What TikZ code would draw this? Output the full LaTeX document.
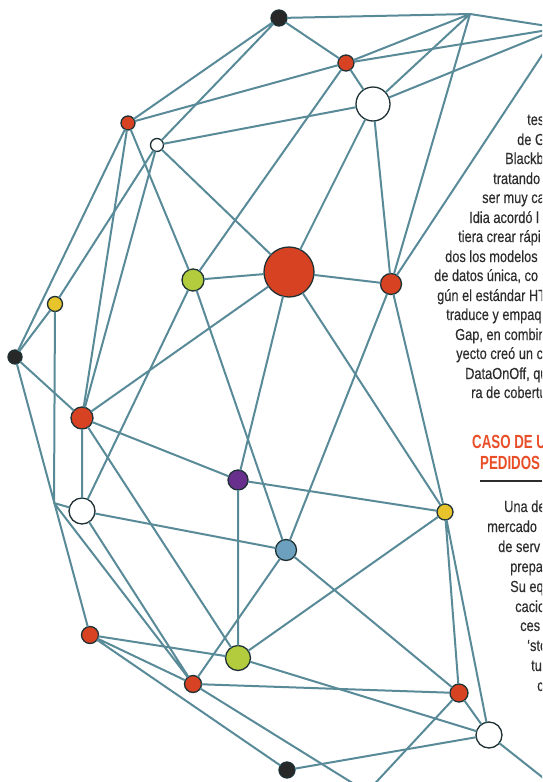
\documentclass[tikz,border=0pt]{standalone}
\usepackage{fontspec}
\setmainfont{Liberation Sans}
\newfontfamily\colfont{Liberation Sans}[FakeStretch=0.8, FakeBold=0.3]
\newfontfamily\headfont{Liberation Sans}[FakeStretch=0.7]

\definecolor{edgeteal}{RGB}{88,138,152}
\definecolor{rim}{RGB}{30,48,52}
\definecolor{nodered}{RGB}{214,66,34}
\definecolor{nodegreen}{RGB}{178,204,62}
\definecolor{nodeyellow}{RGB}{232,196,44}
\definecolor{nodepurple}{RGB}{104,48,140}
\definecolor{nodeblue}{RGB}{108,160,190}
\definecolor{nodeblack}{RGB}{40,40,40}
\definecolor{ink}{RGB}{45,45,45}
\definecolor{headred}{RGB}{232,78,40}

\tikzset{
  netnode/.style={circle, draw=rim, line width=1.3pt, inner sep=0pt, outer sep=0pt, minimum size=#1},
  rednode/.style={netnode=#1, fill=nodered},
  greennode/.style={netnode=#1, fill=nodegreen},
  yellownode/.style={netnode=#1, fill=nodeyellow},
  blacknode/.style={netnode=#1, fill=nodeblack},
  whitenode/.style={netnode=#1, fill=white},
  link/.style={draw=edgeteal, line width=2pt},
  coltext/.style={anchor=base west, inner sep=0pt, text=ink, font=\colfont\fontsize{16}{19}\selectfont},
  headtext/.style={anchor=base west, inner sep=0pt, text=headred, font=\headfont\bfseries\fontsize{19}{21}\selectfont},
}

\begin{document}
\begin{tikzpicture}[x=1pt, y=-1pt]
  \useasboundingbox (0,0) rectangle (542,782);
  \clip (0,0) rectangle (542,782);

  % network nodes, pixel positions
  \node[blacknode=16] (k1) at (279,18) {};
  \node[rednode=16] (r1) at (346,63) {};
  \node[whitenode=34] (w1) at (373,104) {};
  \node[rednode=14] (r2) at (128,123) {};
  \node[whitenode=13] (w2) at (157,145) {};
  \node[rednode=50] (br) at (289,272) {};
  \node[greennode=22] (g1) at (193,280) {};
  \node[rednode=21] (r3) at (391,284) {};
  \node[yellownode=15] (y1) at (55,304) {};
  \node[blacknode=14] (k2) at (15,357) {};
  \node[rednode=22] (r4) at (82,418) {};
  \node[netnode=20, fill=nodepurple] (p) at (238,480) {};
  \node[whitenode=26] (w3) at (82,511) {};
  \node[yellownode=16] (y2) at (445,512) {};
  \node[netnode=21, fill=nodeblue] (b) at (286,550) {};
  \node[rednode=17] (r5) at (90,635) {};
  \node[greennode=25] (g2) at (238,658) {};
  \node[rednode=17] (r6) at (193,684) {};
  \node[rednode=18] (r7) at (459,693) {};
  \node[whitenode=26] (w4) at (489,735) {};
  \node[blacknode=16] (k3) at (287,770) {};
  % junctions and nodes beyond the page edge
  \coordinate (t1) at (470,14);
  \coordinate (t2) at (560,28);
  \coordinate (j) at (54,503);
  \coordinate (c3) at (367,792);
  \coordinate (c5) at (580,807);

  % connectors
  \draw[link] (k1) -- (t1) (k1) -- (r1) (k1) -- (r2) (k1) -- (w2);
  \draw[link] (t1) -- (r1) (t1) -- (w1) (t1) -- (r3) (t1) -- (t2);
  \draw[link] (t2) -- (r1) (t2) -- (w1) (t2) -- (r3);
  \draw[link] (r1) -- (r2) (r1) -- (w1) (r1) -- (g1);
  \draw[link] (w1) -- (w2) (w1) -- (br) (w1) -- (r3);
  \draw[link] (r2) -- (k2) (r2) -- (r4) (r2) -- (g1);
  \draw[link] (w2) -- (br) (w2) -- (r4) (w2) -- (y1);
  \draw[link] (br) -- (g1) (br) -- (r3) (br) -- (r4) (br) -- (p) (br) -- (y2);
  \draw[link] (g1) -- (w3) (g1) -- (b);
  \draw[link] (r3) -- (y2) (r3) -- (b);
  \draw[link] (y1) -- (k2) (y1) -- (j);
  \draw[link] (k2) -- (r4) (k2) -- (r5);
  \draw[link] (r4) -- (p) (r4) -- (g2) (r4) -- (w3);
  \draw[link] (p) -- (y2) (p) -- (g2);
  \draw[link] (w3) -- (b) (w3) -- (r6) (j) -- (w3) (j) -- (r6);
  \draw[link] (y2) -- (g2) (y2) -- (r7) (y2) -- (w4);
  \draw[link] (b) -- (r6) (b) -- (r7);
  \draw[link] (r5) -- (g2) (r5) -- (r6) (r5) -- (k3);
  \draw[link] (g2) -- (w4);
  \draw[link] (r6) -- (r7) (r6) -- (c3);
  \draw[link] (r7) -- (w4) (r7) -- (c3);
  \draw[link] (w4) -- (k3) (w4) -- (c5);

  % text column on the right, cut by the page edge
  \foreach \x/\y/\t [count=\i] in {527/125/tes, 517/145/{de G}, 505/164/Blackb,
      493/184/tratando, 482/203/{ser muy ca}, 469/223/{Idia acordó l},
      458/242/{tiera crear rápi}, 445/262/{dos los modelos},
      434/281/{de datos única, co}, 437/301/{gún el estándar HT},
      446/320/{traduce y empaqu}, 455/340/{Gap, en combina},
      456/359/{yecto creó un co}, 465/379/{DataOnOff, que},
      471/398/{ra de cobertur}}
    \node[coltext] (col\i) at (\x,\y) {\t};

  \node[headtext] (head1) at (472,448) {CASO DE U};
  \node[headtext] (head2) at (480,469) {PEDIDOS};
  \draw[ink, line width=1.3pt] (480,481) -- (542,481);

  \foreach \x/\y/\t [count=\i] in {504/512/{Una de}, 487/532/mercado,
      498/552/{de serv}, 510/572/prepar, 510/592/{Su eq}, 515/612/cacio,
      520/631/ces, 527/651/‘sto, 531/671/tu, 537/691/c}
    \node[coltext] (box\i) at (\x,\y) {\t};
\end{tikzpicture}
\end{document}
